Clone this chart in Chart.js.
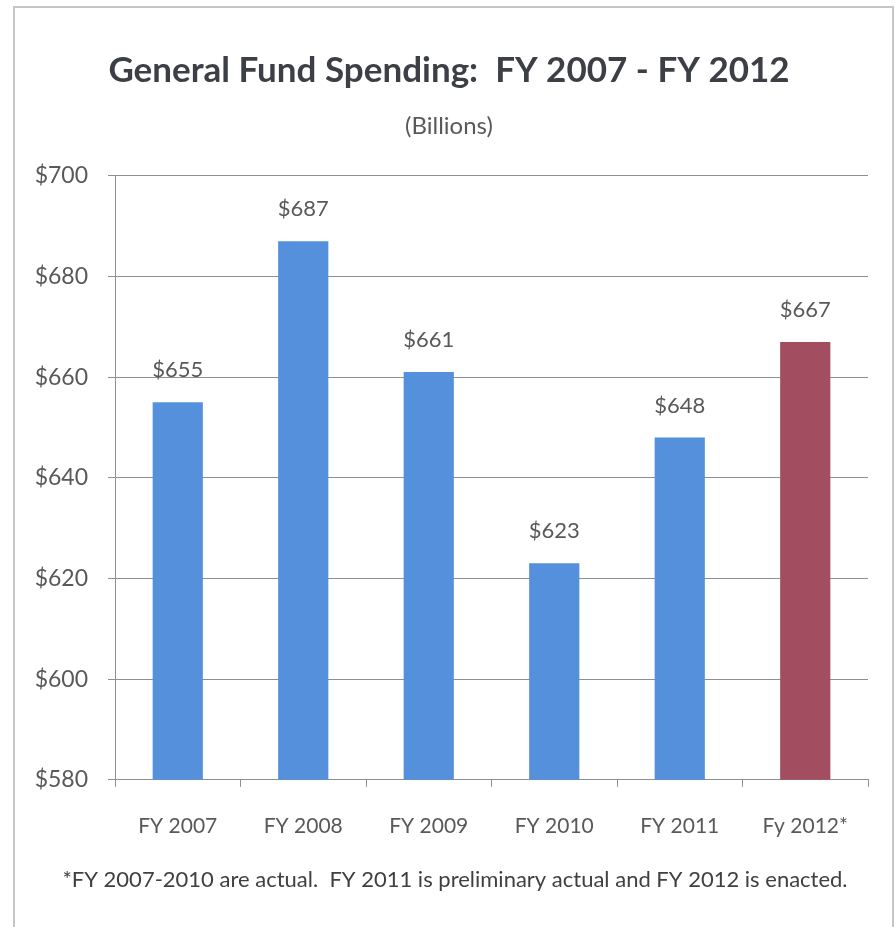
<!DOCTYPE html>
<html>
<head>
<meta charset="utf-8">
<title>General Fund Spending</title>
<script src="https://cdn.jsdelivr.net/npm/chart.js@4.4.1/dist/chart.umd.min.js"></script>
<style>
  html, body { margin: 0; padding: 0; background: #fff; }
  body { width: 895px; height: 927px; position: relative; overflow: hidden; }
  #frame {
    position: absolute; left: 13px; top: 6px; width: 877px; height: 940px;
    border: 2px solid #c6c6c6;
  }
  #chart { position: absolute; left: 0; top: 0; }
</style>
</head>
<body>
<div id="frame"></div>
<canvas id="chart" width="895" height="927"></canvas>
<script>
// fiscal years and general fund spending, $ billions
const years = ['FY 2007', 'FY 2008', 'FY 2009', 'FY 2010', 'FY 2011', 'Fy 2012*'];
const spending = [655, 687, 661, 623, 648, 667];
const yTicks = [580, 600, 620, 640, 660, 680, 700];
const footnote = '*FY 2007-2010 are actual.  FY 2011 is preliminary actual and FY 2012 is enacted.';

const FONT = "Lato, 'Open Sans', sans-serif";
const blue = '#5590dc';
const maroon = '#a24e60';
const gridGray = '#8f8f8f';
const textGray = '#595959';

// value labels above every bar
const barLabels = {
    id: 'barLabels',
    afterDatasetsDraw(chart) {
        const ctx = chart.ctx;
        const meta = chart.getDatasetMeta(0);
        ctx.save();
        ctx.font = '22px ' + FONT;
        ctx.fillStyle = textGray;
        ctx.textAlign = 'center';
        ctx.textBaseline = 'middle';
        meta.data.forEach(function (bar, i) {
            ctx.fillText('$' + spending[i], bar.x, bar.y - 32);
        });
        ctx.restore();
    }
};

// note under the axis labels
const noteLine = {
    id: 'noteLine',
    afterDraw(chart) {
        const ctx = chart.ctx;
        ctx.save();
        ctx.font = '22px ' + FONT;
        ctx.fillStyle = '#404040';
        ctx.textAlign = 'center';
        ctx.textBaseline = 'middle';
        ctx.fillText(footnote, 455, 880);
        ctx.restore();
    }
};

const ctx = document.getElementById('chart').getContext('2d');
const chart = new Chart(ctx, {
    type: 'bar',
    data: {
        labels: years,
        datasets: [{
            data: spending,
            backgroundColor: function (c) {
                return c.dataIndex === spending.length - 1 ? maroon : blue; // enacted year in maroon
            },
            barPercentage: 0.8,
            categoryPercentage: 0.5
        }]
    },
    options: {
        responsive: false,
        animation: false,
        devicePixelRatio: 1,
        layout: { padding: { left: 30, right: 27, top: 0, bottom: 61 } },
        plugins: {
            legend: { display: false },
            tooltip: { enabled: false },
            title: {
                display: true,
                text: 'General Fund Spending:  FY 2007 - FY 2012',
                color: '#3c3f46',
                font: { family: FONT, size: 35, weight: 'bold', lineHeight: 1.2 },
                padding: { top: 50, bottom: 0 }
            },
            subtitle: {
                display: true,
                text: '(Billions)',
                color: textGray,
                font: { family: FONT, size: 24, lineHeight: 1.2 },
                padding: { top: 20, bottom: 35 }
            }
        },
        scales: {
            x: {
                grid: {
                    display: true,
                    drawOnChartArea: false,
                    drawTicks: true,
                    tickLength: 7,
                    color: gridGray
                },
                border: { display: true, color: gridGray },
                ticks: {
                    color: textGray,
                    padding: 27,
                    maxRotation: 0,
                    font: { family: FONT, size: 21 }
                }
            },
            y: {
                min: 580,
                max: 700,
                afterFit: function (scale) { scale.width = 85; },
                afterBuildTicks: function (scale) {
                    scale.ticks = yTicks.map(function (v) { return { value: v }; });
                },
                grid: { color: gridGray, tickLength: 7 },
                border: { display: true, color: gridGray },
                ticks: {
                    color: textGray,
                    padding: 20,
                    font: { family: FONT, size: 23 },
                    callback: function (v) { return '$' + v; }
                }
            }
        }
    },
    plugins: [barLabels, noteLine]
});
</script>
</body>
</html>
